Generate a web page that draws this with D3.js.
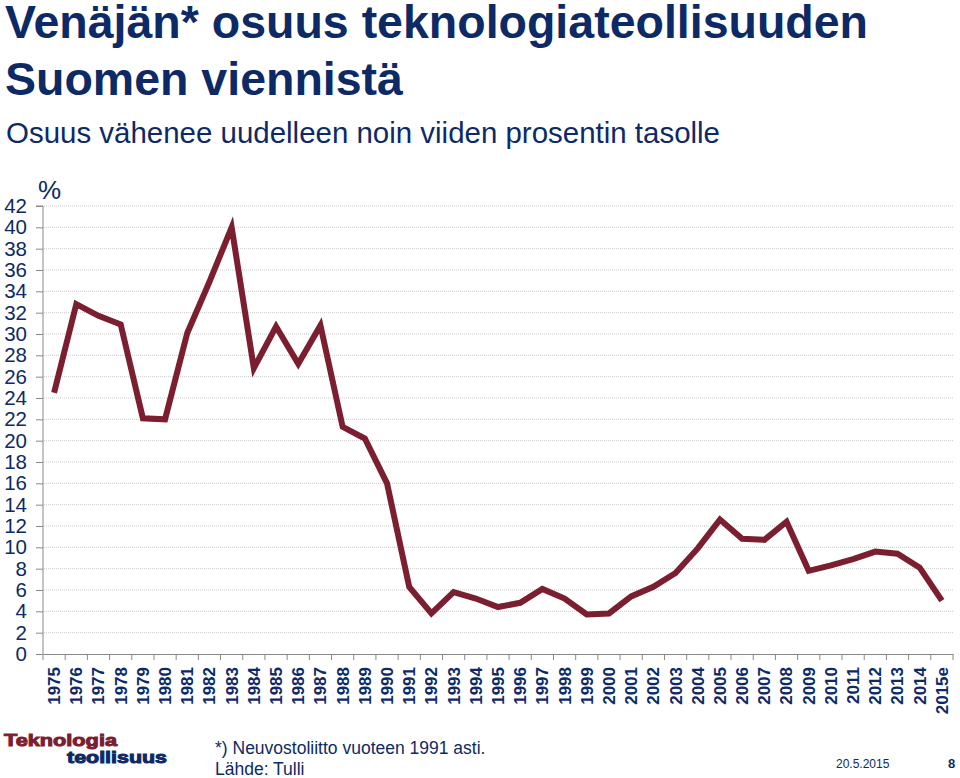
<!DOCTYPE html>
<html><head><meta charset="utf-8">
<script src="https://cdn.jsdelivr.net/npm/d3@7"></script>
<style>body{margin:0;background:#fff}svg{display:block}</style>
</head><body>
<script>
const years = ["1975","1976","1977","1978","1979","1980","1981","1982","1983","1984","1985","1986","1987","1988","1989","1990","1991","1992","1993","1994","1995","1996","1997","1998","1999","2000","2001","2002","2003","2004","2005","2006","2007","2008","2009","2010","2011","2012","2013","2014","2015e"];
const share = [24.5,32.8,31.7,30.9,22.1,22.0,30.1,34.9,40.0,26.8,30.7,27.2,30.8,21.3,20.2,16.0,6.3,3.8,5.8,5.2,4.4,4.8,6.1,5.2,3.7,3.8,5.4,6.3,7.6,9.9,12.6,10.8,10.7,12.4,7.8,8.3,8.9,9.6,9.4,8.1,5.0];
const yTicks = d3.range(0,43,2);

const W=960,H=778;
const navy="#0d2a66", lineCol="#7b1e30";
const FF="'Liberation Sans',Arial,sans-serif";
const svg=d3.select("body").append("svg").attr("width",W).attr("height",H).style("font-family",FF);

svg.append("text").attr("x",5).attr("y",38).attr("font-size",46.5).attr("font-weight","bold").attr("fill",navy).text("Venäjän* osuus teknologiateollisuuden");
svg.append("text").attr("x",5).attr("y",95).attr("font-size",46.5).attr("font-weight","bold").attr("fill",navy).text("Suomen viennistä");
svg.append("text").attr("x",6).attr("y",143).attr("font-size",30).attr("fill",navy).attr("textLength",714).attr("lengthAdjust","spacingAndGlyphs").text("Osuus vähenee uudelleen noin viiden prosentin tasolle");

const x=d3.scaleBand().domain(years).range([43,953]);
const y=d3.scaleLinear().domain([0,42]).range([654,206]);

svg.append("g").selectAll("line").data(yTicks.filter(d=>d>0)).join("line")
  .attr("x1",44).attr("x2",953).attr("y1",d=>y(d)).attr("y2",d=>y(d))
  .attr("stroke","#cccccc").attr("stroke-width",1).attr("stroke-dasharray","1,1");

const ya=svg.append("g").attr("transform","translate(43,0)").call(d3.axisLeft(y).tickValues(yTicks).tickSize(7).tickPadding(9));
ya.select(".domain").attr("stroke","#888").attr("d","M-7,"+y(42)+"H0V"+y(0));
ya.selectAll(".tick line").attr("stroke","#888");
ya.selectAll("text").attr("font-size",20.5).attr("fill",navy).attr("font-family",FF);

const xa=svg.append("g").attr("transform","translate(0,654)").call(d3.axisBottom(x).tickSize(0).tickPadding(0));
xa.select(".domain").attr("stroke","#888");
xa.selectAll(".tick text").attr("transform","rotate(-90)").attr("text-anchor","end").attr("x",-13).attr("y",0).attr("dy","0.35em")
  .attr("font-size",17).attr("font-weight","bold").attr("fill",navy).attr("font-family",FF);
svg.append("g").selectAll("line").data(years.concat(["_end"])).join("line")
  .attr("x1",(d,i)=>43+i*x.step()).attr("x2",(d,i)=>43+i*x.step()).attr("y1",654).attr("y2",660)
  .attr("stroke","#888");

svg.append("text").attr("x",38).attr("y",199).attr("font-size",26).attr("fill",navy).text("%");

const line=d3.line().x((d,i)=>x(years[i])+x.bandwidth()/2).y(d=>y(d));
svg.append("path").datum(share).attr("d",line).attr("fill","none").attr("stroke",lineCol).attr("stroke-width",6).attr("stroke-linejoin","miter");

// footer logo
svg.append("text").attr("x",4).attr("y",746).attr("font-size",17).attr("font-weight","bold").attr("fill",lineCol)
  .attr("stroke",lineCol).attr("stroke-width",1).attr("textLength",113).attr("lengthAdjust","spacingAndGlyphs").text("Teknologia");
svg.append("text").attr("x",67).attr("y",763).attr("font-size",17).attr("font-weight","bold").attr("fill",navy)
  .attr("stroke",navy).attr("stroke-width",1).attr("textLength",100).attr("lengthAdjust","spacingAndGlyphs").text("teollisuus");
svg.append("text").attr("x",215).attr("y",754).attr("font-size",17.5).attr("fill",navy).text("*) Neuvostoliitto vuoteen 1991 asti.");
svg.append("text").attr("x",215).attr("y",775).attr("font-size",17.5).attr("fill",navy).text("Lähde: Tulli");
svg.append("text").attr("x",836).attr("y",768).attr("font-size",12).attr("fill",navy).text("20.5.2015");
svg.append("text").attr("x",948).attr("y",768).attr("font-size",13).attr("font-weight","bold").attr("fill",navy).text("8");
</script>
</body></html>
